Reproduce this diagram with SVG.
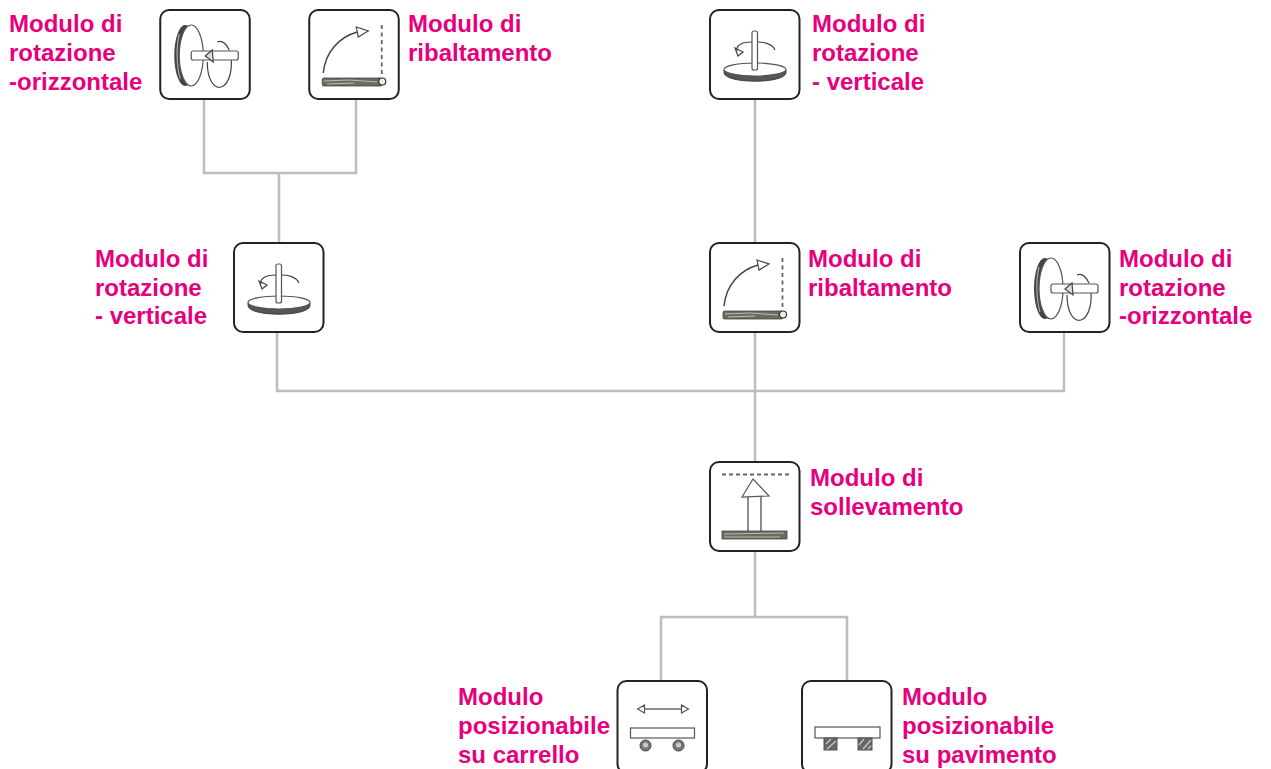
<svg xmlns="http://www.w3.org/2000/svg" width="1271" height="769" viewBox="0 0 1271 769">
<style>
text{font-family:"Liberation Sans",Arial,sans-serif;font-weight:700;font-size:24px;fill:#e6007e}
.box{fill:#fff;stroke:#222;stroke-width:2}
.c{fill:none;stroke:#bdbdbd;stroke-width:2.5}
.l{fill:none;stroke:#444;stroke-width:1.200}
.m{fill:none;stroke:#666;stroke-width:1.500}
.d{fill:#555;stroke:#333;stroke-width:.8}
.w{fill:#fff;stroke:#555;stroke-width:1.200}
</style>
<defs>
<g id="disk">
<rect class="box" x="0" y="0" width="89.500" height="89" rx="9"/>
<ellipse fill="#444" cx="25" cy="45.500" rx="11" ry="30.500"/>
<path d="M19 24C16 36 16 55 20 69" stroke="#aaa" stroke-width="1.200" fill="none"/>
<ellipse class="w" cx="31" cy="45.500" rx="12" ry="30.500"/>
<path class="l" d="M57 32C61 30 66 33 69 40M47 52C47 70 54 79 61 77C70 74 73 56 70 43"/>
<rect class="w" x="31" y="41" width="47" height="9" rx="2"/>
<path d="M52 40L45 46L53 52Z" fill="#ddd" stroke="#444" stroke-width="1.200"/>
</g>
<g id="tilt">
<rect class="box" x="0" y="0" width="89.500" height="89" rx="9"/>
<path d="M14 63C16 42 30 27 48 22" fill="none" stroke="#444" stroke-width="1.500"/>
<path class="l" d="M47 17L59 21L49 27Z"/>
<path d="M72.500 15V67" fill="none" stroke="#666" stroke-width="1.800" stroke-dasharray="4 3.500"/>
<rect x="13" y="68" width="60" height="8" rx="1.500" fill="#6b6b5f" stroke="#444" stroke-width=".8"/>
<path d="M15 71L40 70L68 72M18 74L45 73" stroke="#ddd" stroke-width=".7" fill="none"/>
<circle cx="73" cy="71.500" r="3.500" fill="#eee" stroke="#333" stroke-width="1.200"/>
</g>
<g id="rot">
<rect class="box" x="0" y="0" width="89.500" height="89" rx="9"/>
<path d="M14 60V63C16 74 74 74 76 63V60Z" fill="#555" stroke="#333" stroke-width=".8"/>
<ellipse class="w" cx="45" cy="59.500" rx="31" ry="6.500"/>
<path class="l" d="M65 40C62 33 52 32 48 32M42 32C32 32 26 35 27 41"/>
<path class="l" d="M28 46L25 38L33 42Z"/>
<rect class="w" x="42" y="21" width="5.500" height="39" rx="2"/>
</g>
<g id="lift">
<rect class="box" x="0" y="0" width="89.500" height="89" rx="9"/>
<path d="M12 12.500H80" fill="none" stroke="#666" stroke-width="1.800" stroke-dasharray="4 3"/>
<path class="m" d="M38 35V69M51 35V69"/>
<path class="w" d="M43 17L32 35L59 34Z" stroke="#444"/>
<rect x="12" y="69" width="65" height="8" fill="#6b6b5f" stroke="#444" stroke-width=".8"/>
<path d="M14 72L74 71M14 75H70" stroke="#ddd" stroke-width=".7" fill="none"/>
</g>
<g id="cart">
<rect class="box" x="0" y="0" width="89.500" height="92" rx="9"/>
<path class="m" d="M26 28H65"/>
<path class="w" d="M20 28L27 24V32ZM71 28L64 24V32Z"/>
<rect class="w" x="13" y="47" width="64" height="10"/>
<circle cx="28" cy="64.500" r="5.500" fill="#777" stroke="#444"/>
<circle cx="61" cy="64.500" r="5.500" fill="#777" stroke="#444"/>
<circle cx="28" cy="64" r="2.500" fill="#ccc"/>
<circle cx="61" cy="64" r="2.500" fill="#ccc"/>
</g>
<g id="floor">
<rect class="box" x="0" y="0" width="89.500" height="92" rx="9"/>
<rect class="w" x="13" y="46" width="65" height="11"/>
<rect x="22" y="57" width="13" height="12" fill="#666" stroke="#555"/>
<rect x="56" y="57" width="14" height="12" fill="#666" stroke="#555"/>
<path d="M24 63L29 58M25 68L34 60M57 64L62 58M61 68L69 59M66 68L69 65" stroke="#ccc" stroke-width="1.200" fill="none"/>
</g>
</defs>
<g id="connectors">
<path class="c" d="M204 99V173H356V99M279 173V243"/>
<path class="c" d="M755 99V243"/>
<path class="c" d="M277 332V391H1064V332M755 332V462"/>
<path class="c" d="M755 551V617M661 681V617H847V681"/>
</g>
<g id="n-rot-oriz-top"><use href="#disk" x="160.250" y="10"/><text x="9" y="32">Modulo di</text><text x="9" y="61">rotazione</text><text x="9" y="90">-orizzontale</text></g>
<g id="n-rib-top"><use href="#tilt" x="309.250" y="10"/><text x="408" y="32">Modulo di</text><text x="408" y="61">ribaltamento</text></g>
<g id="n-rot-vert-top"><use href="#rot" x="710" y="10"/><text x="812" y="32">Modulo di</text><text x="812" y="61">rotazione</text><text x="812" y="90">- verticale</text></g>
<g id="n-rot-vert"><use href="#rot" x="234" y="243"/><text x="95" y="267">Modulo di</text><text x="95" y="296">rotazione</text><text x="95" y="324">- verticale</text></g>
<g id="n-rib"><use href="#tilt" x="710" y="243"/><text x="808" y="267">Modulo di</text><text x="808" y="296">ribaltamento</text></g>
<g id="n-rot-oriz"><use href="#disk" x="1020" y="243"/><text x="1119" y="267">Modulo di</text><text x="1119" y="296">rotazione</text><text x="1119" y="324">-orizzontale</text></g>
<g id="n-soll"><use href="#lift" x="710" y="462"/><text x="810" y="486">Modulo di</text><text x="810" y="515">sollevamento</text></g>
<g id="n-carrello"><use href="#cart" x="617.500" y="681"/><text x="458" y="705">Modulo</text><text x="458" y="734">posizionabile</text><text x="458" y="763">su carrello</text></g>
<g id="n-pavimento"><use href="#floor" x="802" y="681"/><text x="902" y="705">Modulo</text><text x="902" y="734">posizionabile</text><text x="902" y="763">su pavimento</text></g>
</svg>
